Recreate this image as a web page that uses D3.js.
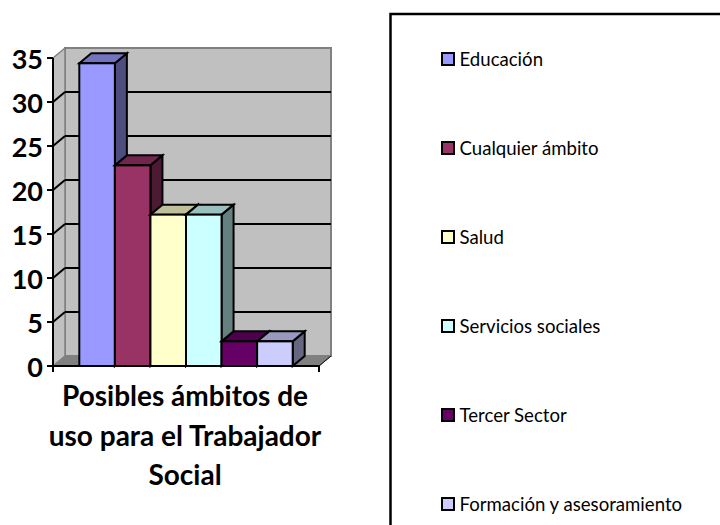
<!DOCTYPE html>
<html><head><meta charset="utf-8">
<script src="https://cdnjs.cloudflare.com/ajax/libs/d3/7.8.5/d3.min.js"></script>
<style>html,body{margin:0;padding:0;background:#fff}svg{display:block}text{font-family:Lato,"Open Sans",sans-serif;fill:#000}</style>
</head><body><svg width="720" height="525"></svg>
<script>
const categories = ["Educación","Cualquier ámbito","Salud","Servicios sociales","Tercer Sector","Formación y asesoramiento"];
const values = [34.4,22.8,17.2,17.2,2.8,2.8];
const colors = ["#9999FF","#993366","#FFFFCC","#CCFFFF","#660066","#CCCCFF"];
const yTicks = [0,5,10,15,20,25,30,35];
const titleLines = ["Posibles ámbitos de","uso para el Trabajador","Social"];

const svg = d3.select("svg");
const dx = 12, dy = -10;
const x0 = 53, x1 = 319;
const y = d3.scaleLinear().domain([0,35]).range([366,58]);
const x = d3.scaleBand().domain(categories).range([x0,x1]).paddingInner(0).paddingOuter(0.74);
const poly = pts => pts.map(p => p.join(",")).join(" ");

// walls and floor
const g = svg.append("g");
g.append("polygon").attr("points", poly([[x0+dx,y(35)+dy],[x1+dx,y(35)+dy],[x1+dx,y(0)+dy],[x0+dx,y(0)+dy]]))
  .attr("fill","#C0C0C0").attr("stroke","#808080").attr("stroke-width",2);
g.append("polygon").attr("points", poly([[x0,y(35)],[x0+dx,y(35)+dy],[x0+dx,y(0)+dy],[x0,y(0)]]))
  .attr("fill","#C0C0C0").attr("stroke","#808080").attr("stroke-width",1.5);
g.append("polygon").attr("points", poly([[x0,y(0)],[x0+dx,y(0)+dy],[x1+dx,y(0)+dy],[x1,y(0)]]))
  .attr("fill","#808080").attr("stroke","#808080").attr("stroke-width",1);

// gridlines
yTicks.filter(t => t>0 && t<35).forEach(t => {
  g.append("line").attr("x1",x0+dx).attr("x2",x1+dx).attr("y1",y(t)+dy).attr("y2",y(t)+dy).attr("stroke","#000").attr("stroke-width",2);
});
yTicks.filter(t => t>0 && t<35).forEach(t => {
  g.append("line").attr("x1",x0).attr("x2",x0+dx).attr("y1",y(t)).attr("y2",y(t)+dy).attr("stroke","#000").attr("stroke-width",2);
});

// bars
const shade = (c,k) => { const r = d3.rgb(c); return d3.rgb(r.r*k,r.g*k,r.b*k).formatHex(); };
categories.forEach((c,i) => {
  const bx = x(c), bw = x.bandwidth(), top = y(values[i]), bot = y(0);
  const b = g.append("g").attr("stroke","#000").attr("stroke-width",2).attr("stroke-linejoin","miter");
  b.append("polygon").attr("points", poly([[bx+bw,top],[bx+bw+dx,top+dy],[bx+bw+dx,bot+dy],[bx+bw,bot]])).attr("fill",shade(colors[i],0.5));
  b.append("polygon").attr("points", poly([[bx,top],[bx+dx,top+dy],[bx+bw+dx,top+dy],[bx+bw,top]])).attr("fill",shade(colors[i],0.75));
  b.append("rect").attr("x",bx).attr("y",top).attr("width",bw).attr("height",bot-top).attr("fill",colors[i]);
});

// axes
const yAxis = svg.append("g");
yAxis.append("line").attr("x1",x0).attr("x2",x0).attr("y1",y(35)).attr("y2",y(0)+6).attr("stroke","#000").attr("stroke-width",2);
yAxis.selectAll(".t").data(yTicks).join("line").attr("x1",x0-6).attr("x2",x0).attr("y1",d=>y(d)).attr("y2",d=>y(d)).attr("stroke","#000").attr("stroke-width",2);
yAxis.selectAll("text").data(yTicks).join("text").text(d=>d)
  .attr("x",x0-10).attr("y",d=>y(d)+1).attr("dy","0.36em").attr("text-anchor","end")
  .style("font-size","27px").style("font-weight","700");
const xAxis = svg.append("g");
xAxis.append("line").attr("x1",x0-6).attr("x2",x1).attr("y1",y(0)).attr("y2",y(0)).attr("stroke","#000").attr("stroke-width",2);
xAxis.append("line").attr("x1",x1).attr("x2",x1).attr("y1",y(0)).attr("y2",y(0)+6).attr("stroke","#000").attr("stroke-width",2);
xAxis.append("line").attr("x1",x1).attr("x2",x1+dx).attr("y1",y(0)).attr("y2",y(0)+dy).attr("stroke","#000").attr("stroke-width",1);

// category title
svg.append("g").selectAll("text").data(titleLines).join("text").text(d=>d)
  .attr("x",185).attr("y",(d,i)=>406+i*39.5).attr("text-anchor","middle")
  .style("font-size","28px").style("font-weight","700");

// legend
svg.append("rect").attr("x",390.5).attr("y",14).attr("width",400).attr("height",600)
  .attr("fill","#fff").attr("stroke","#000").attr("stroke-width",2.5);
const rowY = d3.scalePoint().domain(categories).range([59,504]);
const lg = svg.append("g").selectAll("g").data(categories).join("g").attr("transform",d=>`translate(441,${rowY(d)})`);
lg.append("rect").attr("x",1).attr("y",-6).attr("width",12).attr("height",12).attr("fill",(d,i)=>colors[i]).attr("stroke","#000").attr("stroke-width",2);
lg.append("text").text(d=>d).attr("x",18.5).attr("y",6.5).style("font-size","18.6px");
</script></body></html>
